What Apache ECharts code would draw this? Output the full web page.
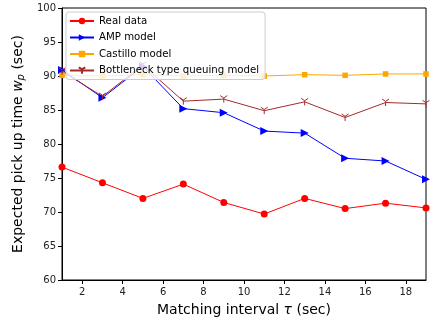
<!DOCTYPE html>
<html>
<head>
<meta charset="utf-8">
<script src="https://cdn.jsdelivr.net/npm/echarts@6/dist/echarts.min.js"></script>
<style>
  html, body { margin: 0; padding: 0; background: #fff; }
  #chart { width: 433px; height: 322px; }
</style>
</head>
<body>
<div id="chart"></div>
<script>
// Matching interval (sec)
const intervals = [1, 3, 5, 7, 9, 11, 13, 15, 17, 19];
// Expected pick up time (sec) per model
const realData   = [76.6, 74.3, 72.0, 74.1, 71.4, 69.7, 72.0, 70.5, 71.3, 70.6];
const ampModel   = [90.9, 86.8, 91.4, 85.2, 84.6, 81.9, 81.6, 77.9, 77.5, 74.8];
const castillo   = [90.1, 90.0, 90.2, 90.0, 90.1, 90.0, 90.2, 90.1, 90.3, 90.3];
const bottleneck = [90.7, 87.0, 91.6, 86.3, 86.6, 84.9, 86.2, 83.9, 86.1, 85.9];
const xTicks = [2, 4, 6, 8, 10, 12, 14, 16, 18];

const pairs = vals => intervals.map((x, i) => [x, vals[i]]);
const font = 'DejaVu Sans';
const triDown = 'path://M5,5 L5,10 M5,5 L0.7,2.5 M5,5 L9.3,2.5';

const chart = echarts.init(document.getElementById('chart'));
chart.setOption({
  animation: false,
  textStyle: { fontFamily: font },
  grid: { left: 62, right: 7, top: 8, bottom: 42, show: true, borderColor: '#000', borderWidth: 1 },
  xAxis: {
    type: 'value', min: 1, max: 19,
    name: 'Matching interval {i|τ} (sec)',
    nameLocation: 'middle', nameGap: 23,
    nameTextStyle: { fontSize: 14, color: '#000', rich: { i: { fontSize: 14, fontStyle: 'italic', fontFamily: font } } },
    axisLine: { lineStyle: { color: '#000' } },
    axisTick: { inside: false, length: 4, customValues: xTicks, lineStyle: { color: '#000' } },
    axisLabel: { customValues: xTicks, fontSize: 10, color: '#222', margin: 7 },
    splitLine: { show: false }
  },
  yAxis: {
    type: 'value', min: 60, max: 100, interval: 5,
    name: 'Expected pick up time {i|w}{s|p} (sec)',
    nameLocation: 'middle', nameGap: 33, nameRotate: 90,
    nameTextStyle: {
      fontSize: 14, color: '#000',
      rich: {
        i: { fontSize: 14, fontStyle: 'italic', fontFamily: font },
        s: { fontSize: 10, fontStyle: 'italic', fontFamily: font, padding: [6, 0, 0, 0] }
      }
    },
    axisLine: { lineStyle: { color: '#000' } },
    axisTick: { inside: false, length: 4, lineStyle: { color: '#000' } },
    axisLabel: { fontSize: 10, color: '#222', margin: 6 },
    splitLine: { show: false }
  },
  legend: {
    left: 66, top: 12, orient: 'vertical',
    itemWidth: 24, itemHeight: 8, itemGap: 6.5,
    padding: [4, 6, 4, 3],
    backgroundColor: 'rgba(255,255,255,0.8)',
    borderColor: '#cccccc', borderWidth: 1, borderRadius: 3,
    textStyle: { fontSize: 10.2, color: '#000', fontFamily: font }
  },
  series: [
    {
      name: 'Real data', type: 'line', data: pairs(realData),
      symbol: 'circle', symbolSize: 7,
      lineStyle: { color: '#ff0000', width: 1 }, itemStyle: { color: '#ff0000' }
    },
    {
      name: 'AMP model', type: 'line', data: pairs(ampModel),
      symbol: 'triangle', symbolRotate: -90, symbolSize: 8,
      lineStyle: { color: '#0000ff', width: 1 }, itemStyle: { color: '#0000ff' }
    },
    {
      name: 'Castillo model', type: 'line', data: pairs(castillo),
      symbol: 'rect', symbolSize: 5.5,
      lineStyle: { color: '#ffa500', width: 1 }, itemStyle: { color: '#ffa500' }
    },
    {
      name: 'Bottleneck type queuing model', type: 'line', data: pairs(bottleneck),
      symbol: triDown, symbolSize: 7,
      lineStyle: { color: '#a52a2a', width: 1 },
      itemStyle: { color: 'rgba(0,0,0,0)', borderColor: '#a52a2a', borderWidth: 1 }
    }
  ]
});
</script>
</body>
</html>
